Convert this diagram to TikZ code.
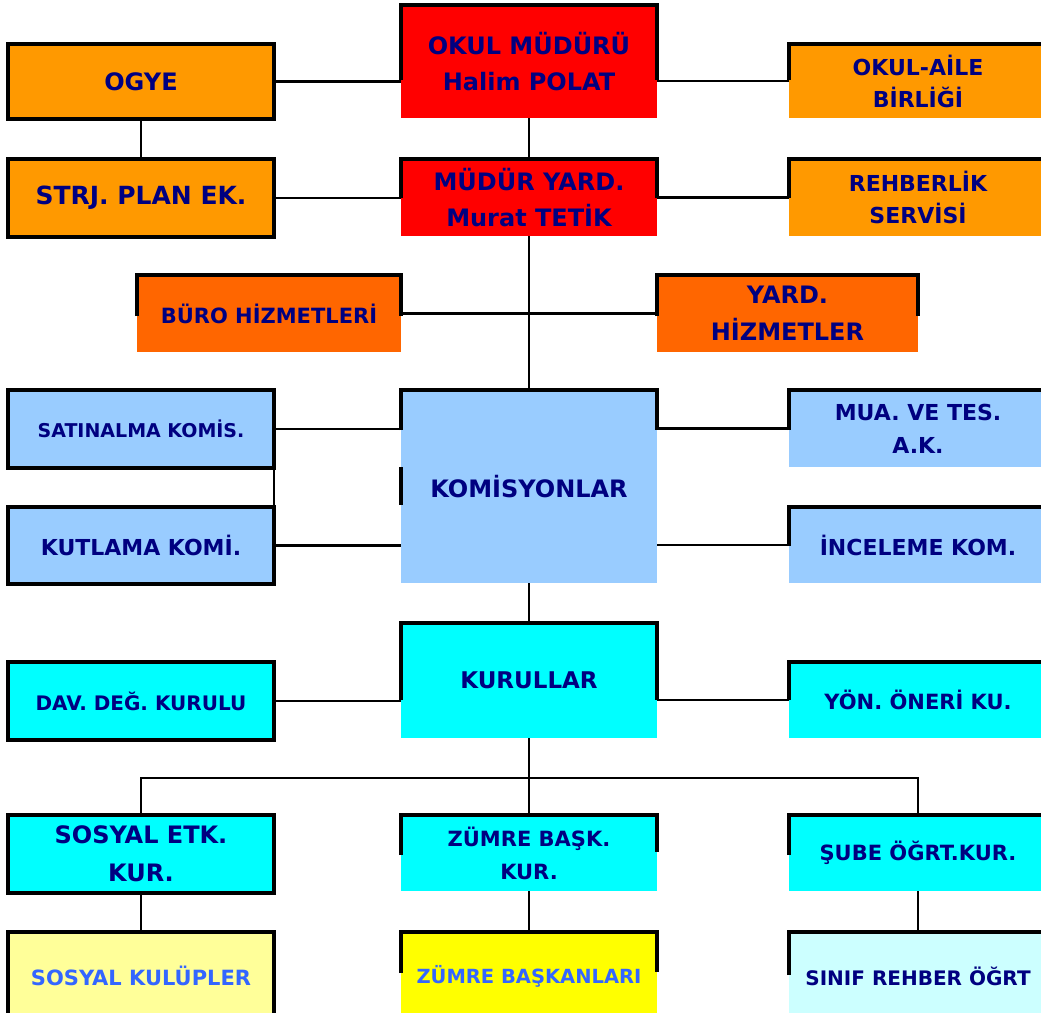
\documentclass[tikz,border=0pt]{standalone}
\usepackage{fontspec}
\setmainfont{DejaVu Sans}
\definecolor{navytxt}{RGB}{0,0,128}
\definecolor{bluetxt}{RGB}{51,102,255}
\definecolor{redbox}{RGB}{255,0,0}
\definecolor{orangebox}{RGB}{255,153,0}
\definecolor{darkorangebox}{RGB}{255,102,0}
\definecolor{lightbluebox}{RGB}{153,204,255}
\definecolor{cyanbox}{RGB}{0,255,255}
\definecolor{paleyellowbox}{RGB}{255,255,153}
\definecolor{yellowbox}{RGB}{255,255,0}
\definecolor{palecyanbox}{RGB}{204,255,255}
\newcommand\fs[2]{\fontsize{#1}{#2}\selectfont\bfseries}
\newcommand\topborder[3]{\draw[bord] (#1.north west) ++(0,#2) -- (#1.north west) -- (#1.north east) -- ++(0,#3);}
\begin{document}
\begin{tikzpicture}[x=1pt,y=-1pt,
  box/.style={inner sep=0pt, outer sep=0pt, text=navytxt, align=center},
  fullbox/.style={box, draw=black, line width=3.2pt},
  lw/.style={minimum width=266pt},
  cw/.style={minimum width=256pt},
  rw/.style={minimum width=258pt},
  bord/.style={line width=3.2pt, line join=miter},
  conn/.style={line width=2.2pt}]
\useasboundingbox (0,0) rectangle (1041,1012);
\clip (0,0) rectangle (1041,1012);

% row 1
\node[fullbox, lw, fill=orangebox, minimum height=75pt, font=\fs{24}{30}] (ogye) at (141,81.5) {OGYE};
\node[box, cw, fill=redbox, minimum height=113pt, font=\fs{24}{36}] (mud) at (529,61.5) {OKUL MÜDÜRÜ\\Halim POLAT};
\node[box, rw, fill=orangebox, minimum height=74pt, font=\fs{22}{32}] (aile) at (918,81) {OKUL-AİLE\\BİRLİĞİ};
% row 2
\node[fullbox, lw, fill=orangebox, minimum height=78pt, font=\fs{25}{30}] (strj) at (141,198) {STRJ. PLAN EK.};
\node[box, cw, fill=redbox, minimum height=77pt, font=\fs{24}{36}] (yard) at (529,197.5) {MÜDÜR YARD.\\Murat TETİK};
\node[box, rw, fill=orangebox, minimum height=77pt, font=\fs{22}{32}] (rehber) at (918,197.5) {REHBERLİK\\SERVİSİ};
% row 3
\node[box, minimum width=264pt, fill=darkorangebox, minimum height=77pt, font=\fs{21}{30}] (buro) at (269,313.5) {BÜRO HİZMETLERİ};
\node[box, minimum width=261pt, fill=darkorangebox, minimum height=77pt, font=\fs{24}{37}] (yardh) at (787.5,313.5) {YARD.\\HİZMETLER};
% row 4
\node[fullbox, lw, fill=lightbluebox, minimum height=78pt, font=\fs{19}{30}] (sat) at (141,429) {SATINALMA KOMİS.};
\node[box, cw, fill=lightbluebox, minimum height=193pt, font=\fs{24}{30}] (kom) at (529,486.5) {KOMİSYONLAR};
\node[box, rw, fill=lightbluebox, minimum height=77pt, font=\fs{22}{33}] (mua) at (918,428.5) {MUA. VE TES.\\A.K.};
\node[fullbox, lw, fill=lightbluebox, minimum height=77pt, font=\fs{22}{30}] (kut) at (141,545.5) {KUTLAMA KOMİ.};
\node[box, rw, fill=lightbluebox, minimum height=76pt, font=\fs{22}{30}] (ince) at (918,545) {İNCELEME KOM.};
% row 5
\node[box, cw, fill=cyanbox, minimum height=115pt, font=\fs{23}{30}] (kur) at (529,680.5) {KURULLAR};
\node[fullbox, lw, fill=cyanbox, minimum height=78pt, font=\fs{20}{30}] (dav) at (141,701) {DAV. DEĞ. KURULU};
\node[box, rw, fill=cyanbox, minimum height=76pt, font=\fs{21}{30}] (yon) at (918,700) {YÖN. ÖNERİ KU.};
% row 6
\node[fullbox, lw, fill=cyanbox, minimum height=78pt, font=\fs{24}{38}] (sos) at (141,854) {SOSYAL ETK.\\KUR.};
\node[box, cw, fill=cyanbox, minimum height=76pt, font=\fs{21}{33}] (zb) at (529,853) {ZÜMRE BAŞK.\\KUR.};
\node[box, rw, fill=cyanbox, minimum height=76pt, font=\fs{21}{30}] (sube) at (918,853) {ŞUBE ÖĞRT.KUR.};
% row 7
\node[fullbox, lw, fill=paleyellowbox, minimum height=88pt, text=bluetxt, font=\fs{21}{30}] (skul) at (141,976) {SOSYAL KULÜPLER};
\node[box, cw, fill=yellowbox, minimum height=88pt, text=bluetxt, font=\fs{19.5}{30}] (zbk) at (529,976) {ZÜMRE BAŞKANLARI};
\node[box, rw, fill=palecyanbox, minimum height=88pt, font=\fs{20}{30}] (sinif) at (918,976) {SINIF REHBER ÖĞRT};

% connectors
\draw[conn] (ogye.east) -- (ogye.east -| mud.west);
\draw[conn] (aile.west -| mud.east) -- (aile.west);
\draw[conn] (ogye.south) -- (strj.north);
\draw[conn] (mud.south) -- (yard.north);
\draw[conn] (strj.east) -- (strj.east -| yard.west);
\draw[conn] (rehber.west -| yard.east) -- (rehber.west);
\draw[conn] (yard.south) -- (kom.north);
\draw[conn] (buro.east) -- (yardh.west);
\draw[conn] (sat.east) -- (sat.east -| kom.west);
\draw[conn] (sat.south east) -- (kut.north east);
\draw[conn] (kut.east) -- (kut.east -| kom.west);
\draw[conn] (mua.west -| kom.east) -- (mua.west);
\draw[conn] (ince.west -| kom.east) -- (ince.west);
\draw[conn] (kom.south) -- (kur.north);
\draw[conn] (dav.east) -- (dav.east -| kur.west);
\draw[conn] (yon.west -| kur.east) -- (yon.west);
\draw[conn] (kur.south) -- ++(0,40) coordinate (bus);
\draw[conn] (sos.north) |- (bus) -| (sube.north);
\draw[conn] (bus) -- (zb.north);
\draw[conn] (sos.south) -- (skul.north);
\draw[conn] (zb.south) -- (zbk.north);
\draw[conn] (sube.south) -- (sinif.north);

% partial borders
\topborder{mud}{75}{75}
\topborder{aile}{36}{0}
\topborder{yard}{39}{39}
\topborder{rehber}{39}{0}
\topborder{buro}{41}{41}
\topborder{yardh}{41}{41}
\topborder{kom}{40}{40}
\draw[bord] (kom.north west) ++(0,77) -- ++(0,38);
\topborder{mua}{40}{0}
\topborder{ince}{39}{0}
\topborder{kur}{77}{77}
\topborder{yon}{38}{0}
\topborder{zb}{40}{37}
\topborder{sube}{40}{0}
\topborder{zbk}{41}{40}
\topborder{sinif}{43}{0}
\end{tikzpicture}
\end{document}
